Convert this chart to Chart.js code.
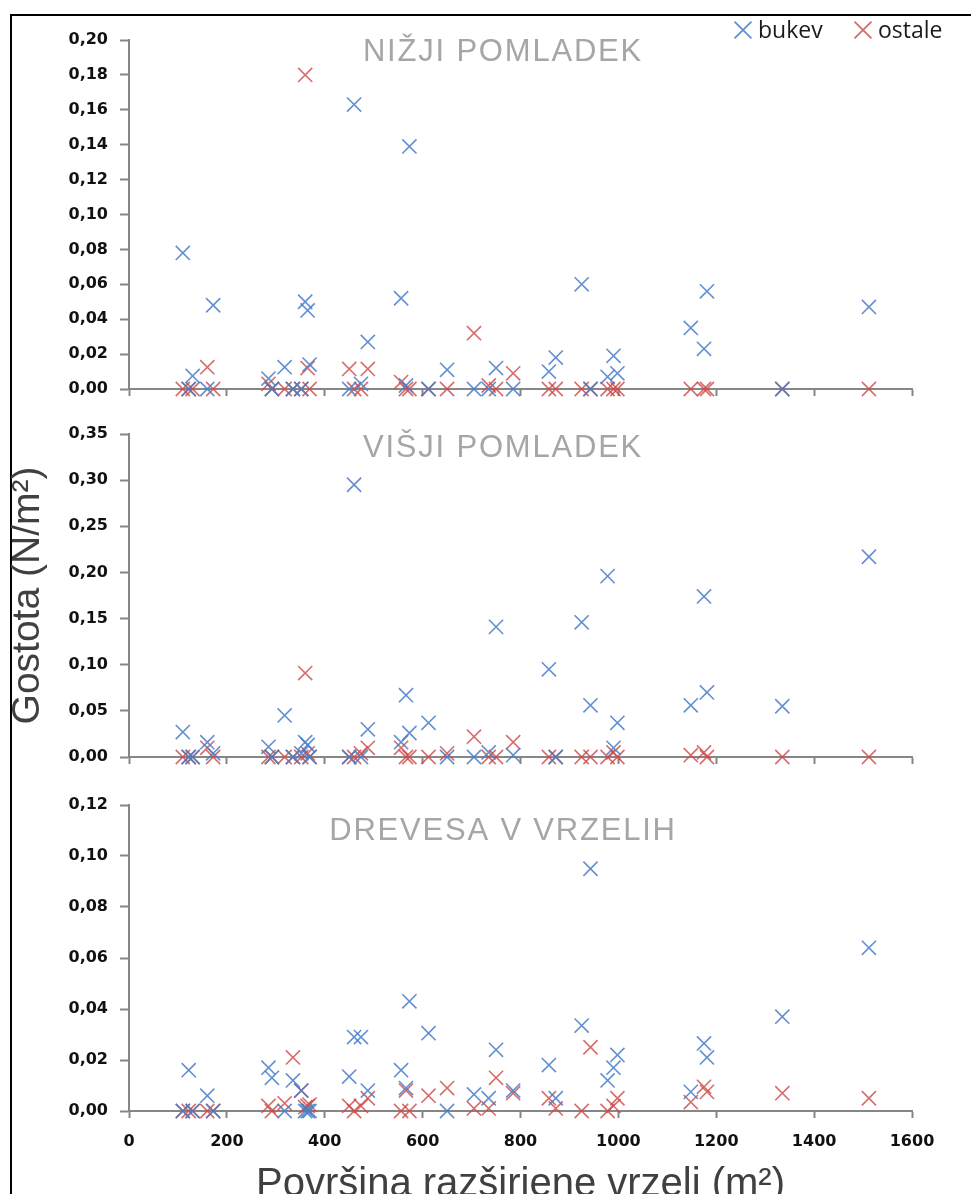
<!DOCTYPE html>
<html>
<head>
<meta charset="utf-8">
<script src="https://cdn.jsdelivr.net/npm/chart.js@4.4.1/dist/chart.umd.min.js"></script>
<style>
  html, body { margin: 0; padding: 0; background: #fff; overflow: hidden; }
  #frame { position: absolute; left: 10px; top: 14px; width: 1200px; height: 1400px; border: 2px solid #000; box-sizing: border-box; }
  canvas { position: absolute; left: 0; }
</style>
</head>
<body>
<div id="frame"></div>
<canvas id="c1" width="971" height="420" style="top:0px"></canvas>
<canvas id="c2" width="971" height="390" style="top:400px"></canvas>
<canvas id="c3" width="971" height="440" style="top:780px"></canvas>
<script>
// gap areas (m2), shared by all three panels
var gapArea = [110, 122, 130, 160, 172, 285, 292, 318, 335, 352, 360, 365, 369, 450, 460, 474, 488, 556, 566, 573,
  612, 650, 705, 735, 750, 785, 858, 872, 925, 943, 978, 990, 998, 1148, 1175, 1181, 1335, 1512];

// density N/m2 - lower regeneration
var lowerBeech = [0.078, 0, 0.0075, 0, 0.048, 0.006, 0, 0.0125, 0, 0, 0.050, 0.045, 0.014, 0, 0.163, 0.003, 0.027, 0.052, 0.002, 0.139,
  0, 0.011, 0, 0, 0.012, 0, 0.010, 0.018, 0.060, 0, 0.007, 0.019, 0.009, 0.035, 0.023, 0.056, 0, 0.047];
var lowerOther = [0, 0, 0, 0.0125, 0, 0.003, 0, 0, 0, 0, 0.180, 0.012, 0, 0.0115, 0, 0, 0.0115, 0.004, 0, 0,
  0, 0, 0.032, 0.002, 0, 0.009, 0, 0, 0, 0, 0, 0, 0, 0, 0, 0, 0, 0];
// higher regeneration
var upperBeech = [0.027, 0, 0, 0.016, 0.004, 0.011, 0, 0.045, 0, 0.004, 0.016, 0.013, 0, 0, 0.295, 0, 0.030, 0.016, 0.067, 0.026,
  0.037, 0, 0, 0.005, 0.141, 0.002, 0.095, 0, 0.146, 0.056, 0.196, 0.010, 0.037, 0.056, 0.174, 0.070, 0.055, 0.217];
var upperOther = [0, 0, 0, 0.010, 0, 0, 0, 0, 0, 0, 0.091, 0.004, 0, 0, 0, 0.004, 0.010, 0.010, 0, 0,
  0, 0.004, 0.022, 0, 0, 0.016, 0, 0, 0, 0, 0, 0.005, 0, 0.002, 0.005, 0, 0, 0];
// trees in gaps
var treesBeech = [0, 0.016, 0, 0.006, 0, 0.017, 0.013, 0, 0.012, 0.008, 0, 0, 0, 0.0135, 0.029, 0.029, 0.008, 0.016, 0.009, 0.043,
  0.0305, 0, 0.0065, 0.005, 0.024, 0.008, 0.018, 0.005, 0.0335, 0.095, 0.012, 0.017, 0.022, 0.0075, 0.0265, 0.021, 0.037, 0.064];
var treesOther = [0, 0, 0, 0, 0, 0.002, 0, 0.003, 0.021, 0.008, 0.0015, 0.002, 0.0025, 0.002, 0, 0.002, 0.005, 0, 0.008, 0,
  0.006, 0.009, 0.001, 0.001, 0.013, 0.007, 0.005, 0.001, 0, 0.025, 0, 0.002, 0.005, 0.0035, 0.0095, 0.0075, 0.007, 0.005];

var seriesNames = ["bukev", "ostale"];
var panelTitles = ["NIŽJI POMLADEK", "VIŠJI POMLADEK", "DREVESA V VRZELIH"];
var yMax = [0.20, 0.35, 0.12];
var yStep = [0.02, 0.05, 0.02];
var xMax = 1600, xStep = 200;

var blue = "rgba(70, 125, 200, 0.85)";
var red = "rgba(205, 72, 70, 0.8)";
var axisGrey = "#868686";
var tickFont = { family: "'DejaVu Sans', Verdana, sans-serif", size: 16, weight: "bold" };

function pts(vals) {
  return gapArea.map(function (x, i) { return { x: x, y: vals[i] }; });
}

// panel titles and the legend are drawn here
var decor = {
  id: "decor",
  afterDraw: function (chart, args, opts) {
    var ctx = chart.ctx, area = chart.chartArea;
    ctx.save();
    ctx.font = "31px 'Liberation Sans', Arial, sans-serif";
    if ("letterSpacing" in ctx) ctx.letterSpacing = "1.8px";
    ctx.fillStyle = "#a6a6a6";
    ctx.textAlign = "center";
    ctx.textBaseline = "alphabetic";
    ctx.fillText(opts.title, 503, area.top + opts.titleDy);
    if ("letterSpacing" in ctx) ctx.letterSpacing = "0px";
    if (opts.legend) {
      var xs = [743, 863];
      chart.data.datasets.forEach(function (ds, i) {
        ctx.strokeStyle = ds.borderColor;
        ctx.fillStyle = ds.borderColor;
        ctx.lineWidth = 1.8;
        Chart.helpers.drawPoint(ctx, { pointStyle: "crossRot", radius: 12, borderWidth: 1.8, rotation: 0 }, xs[i], 30);
        ctx.fillStyle = "#1a1a1a";
        ctx.textAlign = "left";
        ctx.font = "23px 'Open Sans', sans-serif";
        ctx.fillText(ds.label, xs[i] + 15, 38);
      });
    }
    ctx.restore();
  }
};

function makePanel(id, k, beech, other, opts) {
  return new Chart(document.getElementById(id), {
    type: "scatter",
    data: {
      datasets: [
        { label: seriesNames[0], data: pts(beech), borderColor: blue, backgroundColor: blue },
        { label: seriesNames[1], data: pts(other), borderColor: red, backgroundColor: red },
      ],
    },
    options: {
      responsive: false,
      animation: false,
      clip: false,
      layout: { padding: { left: 0, right: 59, top: opts.padTop, bottom: 0 } },
      elements: {
        point: { pointStyle: "crossRot", radius: 10, hoverRadius: 10, borderWidth: 1.6 },
      },
      plugins: {
        legend: { display: false },
        tooltip: { enabled: false },
        decor: { title: panelTitles[k], titleDy: opts.titleDy, legend: opts.legend },
      },
      scales: {
        x: {
          type: "linear",
          min: 0,
          max: xMax,
          afterFit: function (s) { s.height = opts.xHeight; },
          border: { display: true, color: axisGrey, width: 2 },
          grid: { drawOnChartArea: false, drawTicks: true, tickLength: 7, tickColor: axisGrey, tickWidth: 2 },
          ticks: {
            display: opts.xLabels,
            stepSize: xStep,
            padding: 14,
            color: "#111",
            font: tickFont,
            callback: function (v) { return String(v); },
          },
          title: {
            display: opts.xLabels,
            text: "Površina razširjene vrzeli (m²)",
            color: "#404040",
            font: { family: "'Liberation Sans', Arial, sans-serif", size: 40, lineHeight: 1 },
            padding: { top: 0, bottom: 15 },
          },
        },
        y: {
          min: 0,
          max: yMax[k],
          afterFit: function (s) { s.width = 129; },
          border: { display: true, color: axisGrey, width: 2 },
          grid: { drawOnChartArea: false, drawTicks: true, tickLength: 9, tickColor: axisGrey, tickWidth: 2 },
          ticks: {
            stepSize: yStep[k],
            padding: 12,
            color: "#111",
            font: tickFont,
            callback: function (v) { return v.toFixed(2).replace(".", ","); },
          },
          title: {
            display: opts.yTitle,
            text: "Gostota (N/m²)",
            color: "#404040",
            font: { family: "'Liberation Sans', Arial, sans-serif", size: 39, lineHeight: 1 },
            padding: { top: 9, bottom: 0 },
          },
        },
      },
    },
    plugins: [decor],
  });
}

makePanel("c1", 0, lowerBeech, lowerOther, { padTop: 40, xHeight: 31, titleDy: 21, legend: true, xLabels: false, yTitle: false });
makePanel("c2", 1, upperBeech, upperOther, { padTop: 34, xHeight: 33, titleDy: 23, legend: false, xLabels: false, yTitle: true });
makePanel("c3", 2, treesBeech, treesOther, { padTop: 25, xHeight: 109, titleDy: 35, legend: false, xLabels: true, yTitle: false });
</script>
</body>
</html>
